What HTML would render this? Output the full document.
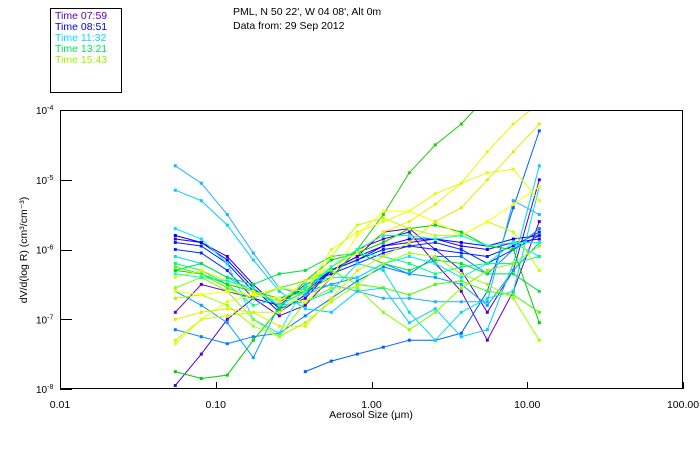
<!DOCTYPE html>
<html><head><meta charset="utf-8"><style>
html,body{margin:0;padding:0;background:#fff;}
svg{display:block;font-family:"Liberation Sans",sans-serif;}
</style></head><body>
<svg id="chart" width="700" height="450" viewBox="0 0 700 450">
<rect x="0" y="0" width="700" height="450" fill="#fff"/>
<rect x="50.5" y="8.5" width="71" height="84" fill="none" stroke="#000"/>
<g font-size="10.5">
<text x="55" y="19" fill="#6000c0">Time 07:59</text>
<text x="55" y="30" fill="#0000f0">Time 08:51</text>
<text x="55" y="41" fill="#00e0ff">Time 11:32</text>
<text x="55" y="52" fill="#00e060">Time 13:21</text>
<text x="55" y="63" fill="#a0f000">Time 15:43</text>
</g>
<text x="233" y="15" font-size="10.5">PML, N 50 22', W 04 08', Alt 0m</text>
<text x="233" y="29" font-size="10.5">Data from: 29 Sep 2012</text>
<defs><clipPath id="pc"><rect x="60" y="110" width="623" height="279"/></clipPath></defs>
<g id="series" clip-path="url(#pc)"></g>
<rect x="60.5" y="110.5" width="622" height="278" fill="none" stroke="#000"/>
<g id="axes"></g>
<text x="371" y="418" font-size="10.5" text-anchor="middle">Aerosol Size (μm)</text>
<text transform="translate(27,250) rotate(-90)" font-size="10.5" text-anchor="middle">dV/d(log R) (cm³/cm⁻³)</text>
</svg>
<script>
const xTicks = [0.01, 0.1, 1, 10, 100];
const xTickLabels = ["0.01", "0.10", "1.00", "10.00", "100.00"];
const yTicks = [-4, -5, -6, -7, -8];
const sizes = [0.055,0.0808,0.1187,0.1743,0.256,0.376,0.552,0.811,1.191,1.749,2.569,3.773,5.541,8.138,11.95];
const seriesColors = ["#6000c0","#5000d0","#3000e0","#0000ff","#0020ff","#0030f0","#0060ff","#0080ff","#00a0ff","#20b0ff","#00d0ff","#00e8ff","#00e0e0","#00ff80","#00e040","#00d000","#20d000","#40ff00","#80ff00","#a0ff00","#c0ff00","#e0ff00","#ffff00","#f0f000","#e8e800","#00ffc0"];
const s1 = [-6.9,-6.5,-6.6,-6.7,-6.95,-6.8,-6.4,-6.0,-5.85,-5.75,-6.2,-6.6,-7.3,-6.6,-5.6];
const s2 = [-7.95,-7.5,-7.0,-6.7,-6.8,-6.6,-6.3,-6.1,-5.75,-5.7,-6.0,-6.3,-6.9,-6.3,-5.0];
const s3 = [-5.85,-5.9,-6.1,-6.5,-6.85,-6.7,-6.3,-6.1,-5.95,-5.9,-5.85,-5.95,-6.0,-5.9,-5.85];
const s4 = [-5.8,-5.9,-6.15,-6.55,-6.9,-6.65,-6.3,-6.15,-5.95,-5.85,-5.85,-5.9,-5.95,-5.85,-5.8];
const s5 = [-5.9,-5.95,-6.2,-6.6,-6.75,-6.55,-6.3,-6.15,-6.0,-5.95,-6.0,-6.05,-6.1,-5.95,-5.75];
const s6 = [-6.0,-6.05,-6.3,-6.7,-6.8,-6.5,-6.35,-6.2,-6.05,-5.95,-5.9,-6.0,-6.2,-6.0,-5.8];
const s7 = [null,null,null,null,null,-7.75,-7.6,-7.5,-7.4,-7.3,-7.3,-7.2,-6.6,-5.4,-4.3];
const s8 = [-7.15,-7.25,-7.35,-7.25,-7.2,-6.95,-6.7,-6.45,-6.25,-6.35,-6.1,-6.1,-6.35,-6.0,-5.7];
const s9 = [-6.6,-6.8,-7.05,-7.55,-6.8,-6.6,-6.5,-6.4,-6.2,-6.35,-6.4,-6.5,-6.8,-6.3,-5.9];
const s10 = [-4.8,-5.05,-5.5,-6.05,-6.55,-6.65,-6.5,-6.6,-6.7,-6.7,-6.75,-6.75,-6.75,-5.3,-5.5];
const s11 = [-5.15,-5.3,-5.65,-6.15,-6.6,-6.85,-6.9,-6.6,-6.55,-7.05,-6.85,-7.25,-7.15,-6.2,-4.8];
const s12 = [-5.7,-5.85,-6.2,-7.0,-7.2,-6.5,-6.4,-6.4,-6.2,-6.1,-6.2,-6.4,-6.2,-5.9,-6.1];
const s13 = [-6.1,-6.2,-6.4,-6.6,-6.8,-6.75,-6.6,-6.2,-6.3,-6.9,-7.3,-6.9,-6.7,-6.6,-5.1];
const s14 = [-6.2,-6.3,-6.5,-6.8,-6.7,-6.55,-6.25,-6.05,-6.1,-6.2,-6.35,-6.25,-6.2,-6.2,-6.1];
const s15 = [-6.3,-6.2,-6.4,-6.5,-6.35,-6.3,-6.1,-6.05,-6.2,-6.3,-6.15,-6.2,-6.35,-6.35,-6.6];
const s16 = [-7.75,-7.85,-7.8,-7.3,-6.85,-6.45,-6.15,-6.05,-5.9,-5.7,-5.65,-5.75,-5.95,-6.0,-7.05];
const s17 = [-6.3,-6.35,-6.5,-6.6,-6.7,-6.6,-6.4,-6.0,-5.5,-4.9,-4.5,-4.2,-3.8,null,null];
const s18 = [-6.25,-6.35,-6.55,-6.7,-6.55,-6.45,-6.3,-6.5,-6.55,-6.65,-6.5,-6.45,-6.6,-6.65,-6.9];
const s19 = [-6.55,-6.4,-6.6,-7.0,-7.25,-6.75,-6.55,-6.55,-6.9,-7.15,-6.9,-6.55,-6.3,-6.2,-5.95];
const s20 = [-6.7,-6.65,-6.8,-7.1,-7.25,-7.05,-6.75,-6.5,-6.2,-6.05,-6.1,-6.35,-6.5,-6.7,-7.3];
const s21 = [-7.3,-7.0,-6.95,-6.9,-6.9,-6.6,-6.1,-5.65,-5.55,-5.7,-5.8,-5.8,-5.6,-5.75,-6.3];
const s22 = [-7.35,-7.0,-6.75,-6.65,-6.55,-6.6,-6.0,-5.75,-5.6,-5.45,-5.2,-5.05,-4.9,-4.85,-5.3];
const s23 = [-6.6,-6.65,-6.6,-6.65,-6.7,-6.75,-6.4,-5.8,-5.45,-5.45,-5.6,-5.8,-5.6,-5.35,-5.1];
const s24 = [-6.4,-6.3,-6.45,-6.6,-6.75,-6.45,-6.25,-6.05,-5.75,-5.6,-5.35,-5.05,-4.6,-4.2,-3.9];
const s25 = [-7.0,-6.9,-6.85,-6.9,-7.1,-7.1,-6.7,-6.3,-6.1,-5.9,-5.6,-5.4,-5.0,-4.6,-4.2];
const s26 = [-6.35,-6.4,-6.45,-6.55,-6.8,-6.6,-6.25,-6.0,-5.8,-5.8,-5.85,-5.8,-5.95,-5.9,-5.9];
const allSeries = [s1,s2,s3,s4,s5,s6,s7,s8,s9,s10,s11,s12,s13,s14,s15,s16,s17,s18,s19,s20,s21,s22,s23,s24,s25,s26];

const NS = "http://www.w3.org/2000/svg";
const X0 = 60, X1 = 683, Y0 = 110, Y1 = 389;
function xScale(v){ return X0 + (Math.log10(v) + 2) / 4 * (X1 - X0); }
function yScale(e){ return Y0 + (-4 - e) / 4 * (Y1 - Y0); }

const axes = document.getElementById('axes');
xTicks.forEach((t, i) => {
  const x = Math.round(xScale(t)) + 0.5;
  const l = document.createElementNS(NS, 'line');
  l.setAttribute('x1', x); l.setAttribute('x2', x);
  l.setAttribute('y1', Y1); l.setAttribute('y2', Y1 - 7);
  l.setAttribute('stroke', '#000');
  
  
  axes.appendChild(l);
  const tx = document.createElementNS(NS, 'text');
  tx.setAttribute('x', xScale(t)); tx.setAttribute('y', 408);
  tx.setAttribute('font-size', '10.5'); tx.setAttribute('text-anchor', 'middle');
  tx.textContent = xTickLabels[i];
  
  
  axes.appendChild(tx);
});
yTicks.forEach(t => {
  const y = Math.round(yScale(t)) + 0.5;
  const l = document.createElementNS(NS, 'line');
  l.setAttribute('x1', X0); l.setAttribute('x2', X0 + 12);
  l.setAttribute('y1', y); l.setAttribute('y2', y);
  l.setAttribute('stroke', '#000');
  
  
  axes.appendChild(l);
  const tx = document.createElementNS(NS, 'text');
  tx.setAttribute('x', 36); tx.setAttribute('y', yScale(t) + 4);
  tx.setAttribute('font-size', '10');
  tx.innerHTML = '10<tspan dy="-4" font-size="7">' + t + '</tspan>';
  
  
  axes.appendChild(tx);
});

const sg = document.getElementById('series');
allSeries.forEach((s, si) => {
  const col = seriesColors[si];
  const g = document.createElementNS(NS, 'g');
  
  
  let d = '', pen = false;
  s.forEach((v, k) => {
    if (v === null) { pen = false; return; }
    const x = xScale(sizes[k]), y = yScale(v);
    d += (pen ? 'L' : 'M') + x.toFixed(1) + ' ' + y.toFixed(1);
    pen = true;
  });
  const p = document.createElementNS(NS, 'path');
  p.setAttribute('d', d); p.setAttribute('fill', 'none');
  p.setAttribute('stroke', col); p.setAttribute('stroke-width', '1');
  
  
  g.appendChild(p);
  s.forEach((v, k) => {
    if (v === null) return;
    const r = document.createElementNS(NS, 'rect');
    r.setAttribute('x', (xScale(sizes[k]) - 1.5).toFixed(1));
    r.setAttribute('y', (yScale(v) - 1.5).toFixed(1));
    r.setAttribute('width', 3); r.setAttribute('height', 3);
    r.setAttribute('fill', col);
    
    
    g.appendChild(r);
  });
  sg.appendChild(g);
});
</script>
</body></html>
